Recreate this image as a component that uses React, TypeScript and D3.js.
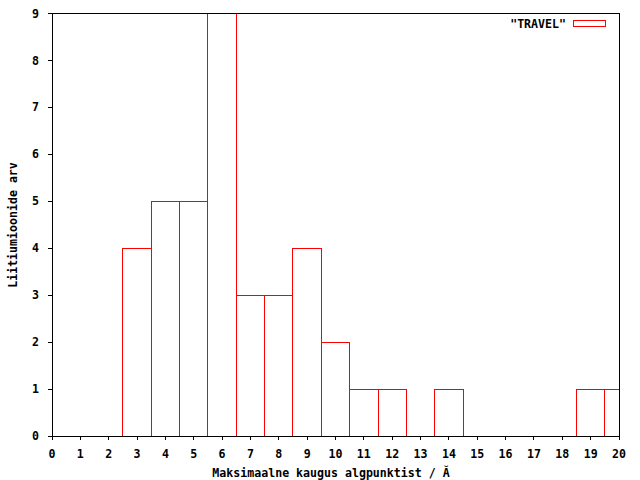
import React from "react";
import * as d3 from "d3";

const binCenters = [0, 1, 2, 3, 4, 5, 6, 7, 8, 9, 10, 11, 12, 13, 14, 15, 16, 17, 18, 19, 20];
const counts = [0, 0, 0, 4, 5, 5, 9, 3, 3, 4, 2, 1, 1, 0, 1, 0, 0, 0, 0, 1, 1];
const xTicks = d3.range(0, 21);
const yTicks = d3.range(0, 10);
const seriesLabel = '"TRAVEL"';
const xLabel = "Maksimaalne kaugus algpunktist / Ă";
const yLabel = "Liitiumioonide arv";

export default function App() {
  const W = 640, H = 480;
  const L = 52, R = 619, T = 13.5, B = 436;
  const x = d3.scaleLinear().domain([0, 20]).range([L, R]);
  const y = d3.scaleLinear().domain([0, 9]).range([B, T]);
  const font = "'DejaVu Sans Mono', monospace";
  const fs = 11.6;
  return (
    <svg width={W} height={H} style={{ position: "absolute", left: 0, top: 0, background: "#fff" }}
      fontFamily={font} fontSize={fs} fontWeight="bold">
      <defs>
        <clipPath id="plot">
          <rect x={L - 1} y={T - 1} width={R - L + 2} height={B - T + 2} />
        </clipPath>
      </defs>
      <g clipPath="url(#plot)" shapeRendering="crispEdges">
        {binCenters.map((c, i) => {
          if (counts[i] <= 0) return null;
          const x0 = Math.max(x(c - 0.5), L), x1 = Math.min(x(c + 0.5), R);
          return (
            <rect key={i} x={x0} y={y(counts[i])} width={x1 - x0}
              height={y(0) - y(counts[i])} fill="none" stroke="#ff0000" strokeWidth={1} />
          );
        })}
      </g>
      <g shapeRendering="crispEdges">
        <rect x={L} y={T} width={R - L} height={B - T} fill="none" stroke="#000" strokeWidth={1} />
        {xTicks.map(t => (
          <line key={t} x1={x(t)} x2={x(t)} y1={B} y2={B + 4} stroke="#000" />
        ))}
        {yTicks.map(t => (
          <line key={t} x1={L - 4} x2={L} y1={y(t)} y2={y(t)} stroke="#000" />
        ))}
        <rect x={573.5} y={20.5} width={32} height={6} fill="none" stroke="#ff0000" strokeWidth={1} />
      </g>
      {xTicks.map(t => (
        <text key={t} x={x(t)} y={458} textAnchor="middle">{t}</text>
      ))}
      {yTicks.map(t => (
        <text key={t} x={39} y={y(t)} dy="0.35em" textAnchor="end">{t}</text>
      ))}
      <text x={331} y={477} textAnchor="middle">{xLabel}</text>
      <text transform={`translate(17,225) rotate(-90)`} textAnchor="middle">{yLabel}</text>
      <text x={566} y={28} textAnchor="end">{seriesLabel}</text>
    </svg>
  );
}
